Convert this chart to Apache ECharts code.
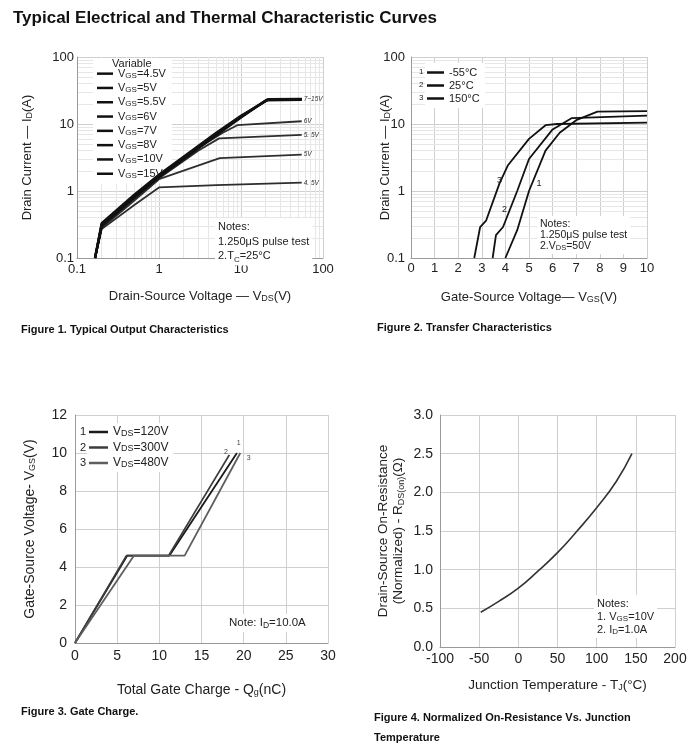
<!DOCTYPE html>
<html><head><meta charset="utf-8">
<script src="https://cdn.jsdelivr.net/npm/echarts@6/dist/echarts.min.js"></script>
<style>html,body{margin:0;padding:0;background:#fff}#c{width:694px;height:751px}</style>
</head><body><div id="c"></div>
<script>
const FONT = '"Liberation Sans", Arial, sans-serif';

// ---------- Figure 1 : output characteristics (log-log) ----------
const f1Names = ['VGS=4.5V','VGS=5V','VGS=5.5V','VGS=6V','VGS=7V','VGS=8V','VGS=10V','VGS=15V'];
const f1_45 = [[0.166,0.1],[0.2,0.27],[0.5,0.62],[1,1.13],[5,1.22],[55,1.33]];
const f1_5  = [[0.166,0.1],[0.2,0.28],[0.5,0.72],[1,1.5],[5.5,3.1],[55,3.5]];
const f1_55 = [[0.166,0.1],[0.2,0.29],[0.5,0.76],[1,1.55],[3,4.0],[5.4,6.1],[55,6.9]];
const f1_6  = [[0.166,0.1],[0.2,0.29],[0.5,0.8],[1,1.6],[3,4.4],[6,7.4],[9,9.6],[55,11]];
const f1_7  = [[0.166,0.1],[0.2,0.3],[0.5,0.8],[1,1.6],[5,6.8],[10,12.5],[20,22.5],[55,23]];
const f1_8  = [[0.166,0.1],[0.2,0.31],[0.5,0.83],[1,1.65],[5,7.0],[10,12.8],[21,23],[55,23.3]];
const f1_10 = [[0.166,0.1],[0.2,0.32],[0.5,0.86],[1,1.7],[5,7.2],[10,13],[21,23.2],[55,23.5]];
const f1_15 = [[0.166,0.1],[0.2,0.33],[0.5,0.88],[1,1.75],[5,7.4],[10,13.3],[22,23.4],[55,23.6]];
const f1EndLabels = ['4. 5V','5V','5. 5V','6V','','','','7~15V'];
const logMinor = [0.2,0.3,0.4,0.5,0.6,0.7,0.8,0.9,2,3,4,5,6,7,8,9,20,30,40,50,60,70,80,90];

// ---------- Figure 2 : transfer characteristics ----------
const f2Names = ['-55°C','25°C','150°C'];
const f2_m55 = [[4.0,0.1],[4.5,0.26],[5,1],[5.7,4],[6.3,7.4],[7,11.4],[7.9,15.3],[10,15.6]];
const f2_25  = [[3.46,0.1],[3.6,0.22],[3.9,0.29],[4.5,1],[5,3],[6,8.3],[6.8,12.2],[10,13.3]];
const f2_150 = [[2.68,0.1],[2.93,0.29],[3.18,0.36],[3.75,1.3],[4.1,2.4],[5,6],[5.7,9.6],[6.2,10],[10,10.5]];
const f2CurveLabels = [['1',[5.42,1.3]],['2',[3.96,0.53]],['3',[3.75,1.45]]];

// ---------- Figure 3 : gate charge ----------
const f3Names = ['VDS=120V','VDS=300V','VDS=480V'];
const f3_120 = [[0,0],[6.2,4.6],[11.2,4.6],[19.2,10]];
const f3_300 = [[0,0],[6.1,4.6],[11.1,4.6],[18.3,9.9]];
const f3_480 = [[0,0],[7,4.6],[13,4.6],[19.6,10]];
const f3CurveLabels = [['1',[19.4,10.5]],['2',[17.9,10.05]],['3',[20.6,9.75]]];

// ---------- Figure 4 : normalized RDS(on) ----------
const f4Data = [[-48,0.45],[-25,0.59],[0,0.76],[25,0.98],[50,1.22],[75,1.5],[100,1.8],[125,2.14],[145,2.5]];

const GRIDC = '#cfcfcf';
const MINORC = '#e6e6e6';
const subRich = {s:{fontSize:9, fontFamily:FONT, color:'#222', verticalAlign:'bottom'}};

function minorSeries(xi, xs, ys) {
  const d = [];
  xs.forEach(v => d.push({xAxis:v}));
  ys.forEach(v => d.push({yAxis:v}));
  return {type:'line', xAxisIndex:xi, yAxisIndex:xi, data:[], z:0, silent:true, symbol:'none',
    markLine:{z:0, silent:true, symbol:'none', animation:false, label:{show:false},
      lineStyle:{color:MINORC, width:1, type:'solid'}, data:d}};
}

function axisCommon(fs) {
  return {
    axisTick:{show:false},
    axisLine:{onZero:false, lineStyle:{color:'#9a9a9a'}},
    splitLine:{show:true, lineStyle:{color:GRIDC}},
    axisLabel:{fontFamily:FONT, fontSize:fs, color:'#222'},
    nameLocation:'middle',
    nameMoveOverlap:false,
    nameTextStyle:{fontFamily:FONT, fontSize:13, color:'#222', rich:subRich}
  };
}
function mk(base, extra) {
  const o = JSON.parse(JSON.stringify(base));
  for (const k in extra) {
    if (typeof extra[k] === 'object' && !Array.isArray(extra[k]) && o[k]) Object.assign(o[k], extra[k]);
    else o[k] = extra[k];
  }
  return o;
}

const f1Data = [f1_45, f1_5, f1_55, f1_6, f1_7, f1_8, f1_10, f1_15];
const f1Series = f1Data.map((d, i) => ({
  type:'line', name:f1Names[i], xAxisIndex:0, yAxisIndex:0, data:d, symbol:'none', z:3,
  lineStyle:{color: i < 4 ? '#2e2e2e' : '#111', width: i < 4 ? 1.8 : 2.4},
  itemStyle:{color:'#111'},
  endLabel: f1EndLabels[i] ? {show:true, formatter:f1EndLabels[i], fontSize:6.5, color:'#333',
    fontStyle:'italic', fontFamily:FONT, distance:2} : {show:false}
}));

const f2Data = [f2_m55, f2_25, f2_150];
const f2Series = f2Data.map((d, i) => ({
  type:'line', name:f2Names[i], xAxisIndex:1, yAxisIndex:1, data:d, symbol:'none', z:3,
  lineStyle:{color:'#111', width:1.8}, itemStyle:{color:'#111'},
  markPoint:{symbol:'circle', symbolSize:0, silent:true, animation:false,
    label:{show:true, formatter:f2CurveLabels[i][0], fontSize:9, color:'#222', fontFamily:FONT},
    data:[{coord:f2CurveLabels[i][1]}]}
}));

const f3Colors = ['#1a1a1a','#3c3c3c','#5e5e5e'];
const f3Data = [f3_120, f3_300, f3_480];
const f3Series = f3Data.map((d, i) => ({
  type:'line', name:f3Names[i], xAxisIndex:2, yAxisIndex:2, data:d, symbol:'none', z:3,
  lineStyle:{color:f3Colors[i], width:1.8}, itemStyle:{color:f3Colors[i]},
  markPoint:{symbol:'circle', symbolSize:0, silent:true, animation:false,
    label:{show:true, formatter:f3CurveLabels[i][0], fontSize:7, color:'#444', fontFamily:FONT},
    data:[{coord:f3CurveLabels[i][1]}]}
}));

const f4Series = [{type:'line', name:'RDS(on)', xAxisIndex:3, yAxisIndex:3, data:f4Data, symbol:'none',
  smooth:true, z:3, lineStyle:{color:'#333', width:1.6}}];

function noteText(x, y, txt, fs, lh) {
  return {type:'text', x:x, y:y, z:5, silent:true,
    style:{text:txt, fontFamily:FONT, fontSize:fs, lineHeight:lh, fill:'#222',
      backgroundColor:'#fff', padding:[2,3,2,3],
      rich:{s:{fontSize:fs-3, fontFamily:FONT, fill:'#222', lineHeight:lh, verticalAlign:'bottom'}}}};
}
function plainText(x, y, txt, fs, weight, color) {
  return {type:'text', x:x, y:y, z:6, silent:true,
    style:{text:txt, fontFamily:FONT, fontSize:fs, fontWeight:weight||'normal', fill:color||'#222'}};
}

const option = {
  animation:false,
  backgroundColor:'#fff',
  title:{text:'Typical Electrical and Thermal Characteristic Curves', left:8, top:5,
    textStyle:{fontFamily:FONT, fontSize:17, fontWeight:'bold', color:'#111'}},
  grid:[
    {left:77, top:57, width:246, height:201},
    {left:411, top:57, width:236, height:201},
    {left:75, top:415, width:253, height:228},
    {left:440, top:415, width:235, height:232}
  ],
  xAxis:[
    mk(axisCommon(13), {gridIndex:0, type:'log', logBase:10, min:0.1, max:100,
      name:'Drain-Source Voltage — V{s|DS}(V)', nameGap:32, axisLabel:{margin:5}}),
    mk(axisCommon(13), {gridIndex:1, type:'value', min:0, max:10, interval:1,
      name:'Gate-Source Voltage— V{s|GS}(V)', nameGap:33, axisLabel:{margin:4}}),
    mk(axisCommon(14), {gridIndex:2, type:'value', min:0, max:30, interval:5,
      name:'Total Gate Charge - Q{s|g}(nC)', nameGap:40, axisLabel:{margin:6},
      nameTextStyle:{fontSize:14}}),
    mk(axisCommon(14), {gridIndex:3, type:'value', min:-100, max:200, interval:50,
      name:'Junction Temperature - T{s|J}(°C)', nameGap:31, axisLabel:{margin:5},
      nameTextStyle:{fontSize:13.5}})
  ],
  yAxis:[
    mk(axisCommon(13), {gridIndex:0, type:'log', logBase:10, min:0.1, max:100,
      name:'Drain Current — I{s|D}(A)', nameGap:43, axisLabel:{margin:3}}),
    mk(axisCommon(13), {gridIndex:1, type:'log', logBase:10, min:0.1, max:100,
      name:'Drain Current — I{s|D}(A)', nameGap:19, axisLabel:{margin:6}}),
    mk(axisCommon(14), {gridIndex:2, type:'value', min:0, max:12, interval:2,
      name:'Gate-Source Voltage- V{s|GS}(V)', nameGap:38, axisLabel:{margin:8},
      nameTextStyle:{fontSize:14}}),
    mk(axisCommon(14), {gridIndex:3, type:'value', min:0, max:3, interval:0.5,
      name:'Drain-Source On-Resistance\n(Normalized) - R{s|DS(on)}(Ω)', nameGap:34,
      axisLabel:{margin:7, formatter:v => v.toFixed(1)},
      nameTextStyle:{fontSize:13.5, lineHeight:15}})
  ],
  legend:[
    {data:f1Names, left:93, top:58, orient:'vertical', icon:'rect', itemWidth:16, itemHeight:2.5,
     itemGap:3, padding:[10,6,4,4], backgroundColor:'#fff', z:1, selectedMode:false,
     formatter:n => n.replace('VGS','V{s|GS}'),
     textStyle:{fontFamily:FONT, fontSize:11, lineHeight:11.3, color:'#222',
       rich:{s:{fontSize:8, fontFamily:FONT, color:'#222', lineHeight:11.3, verticalAlign:'bottom'}}}},
    {data:f2Names, left:425, top:63, orient:'vertical', icon:'rect', itemWidth:17, itemHeight:2.5,
     itemGap:2, padding:[4,5,4,2], backgroundColor:'#fff', z:1, selectedMode:false,
     textStyle:{fontFamily:FONT, fontSize:11, lineHeight:11, color:'#222'}},
    {data:f3Names, left:87, top:423, orient:'vertical', icon:'rect', itemWidth:19, itemHeight:2.5,
     itemGap:3.5, padding:[3,5,3,2], backgroundColor:'#fff', z:1, selectedMode:false,
     formatter:n => n.replace('VDS','V{s|DS}'),
     textStyle:{fontFamily:FONT, fontSize:12, lineHeight:12, color:'#222',
       rich:{s:{fontSize:9, fontFamily:FONT, color:'#222', lineHeight:12, verticalAlign:'bottom'}}}}
  ],
  graphic:[
    plainText(112, 58, 'Variable', 11),
    plainText(419, 68, '1', 8), plainText(419, 81, '2', 8), plainText(419, 94, '3', 8),
    plainText(80, 426, '1', 11), plainText(80, 442, '2', 11), plainText(80, 457, '3', 11),
    noteText(215, 218, 'Notes:\n1.250μS pulse test\n2.T{s|C}=25°C', 11, 14.5),
    noteText(537, 216, 'Notes:\n1.250μS pulse test\n2.V{s|DS}=50V', 10.5, 11.3),
    noteText(226, 614, 'Note: I{s|D}=10.0A', 11.5, 14),
    noteText(594, 595, 'Notes:\n1. V{s|GS}=10V\n2. I{s|D}=1.0A', 11, 13),
    plainText(21, 324, 'Figure 1. Typical Output Characteristics', 11, 'bold', '#111'),
    plainText(377, 322, 'Figure 2. Transfer Characteristics', 11, 'bold', '#111'),
    plainText(21, 706, 'Figure 3. Gate Charge.', 11, 'bold', '#111'),
    plainText(374, 712, 'Figure 4. Normalized On-Resistance Vs. Junction', 11, 'bold', '#111'),
    plainText(374, 732, 'Temperature', 11, 'bold', '#111')
  ],
  series:[
    minorSeries(0, logMinor, logMinor),
    minorSeries(1, [], logMinor),
    ...f1Series, ...f2Series, ...f3Series, ...f4Series
  ]
};

const chart = echarts.init(document.getElementById('c'));
chart.setOption(option);
</script>
</body></html>
